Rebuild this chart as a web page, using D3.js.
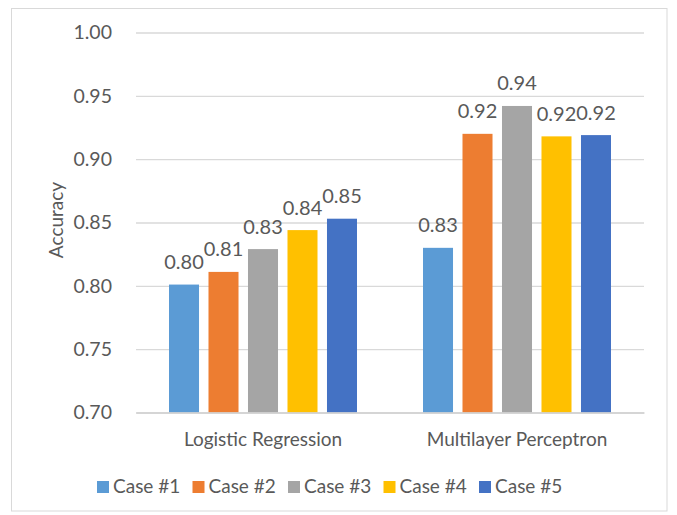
<!DOCTYPE html>
<html>
<head>
<meta charset="utf-8">
<script src="https://cdn.jsdelivr.net/npm/d3@7"></script>
<style>
  html, body { margin: 0; padding: 0; background: #fff; }
  svg text { font-family: Lato, "Open Sans", sans-serif; fill: #595959; }
</style>
</head>
<body>
<svg id="chart" width="677" height="515"></svg>
<script>
// Model categories and the five experimental cases
const categories = ["Logistic Regression", "Multilayer Perceptron"];
const cases = ["Case #1", "Case #2", "Case #3", "Case #4", "Case #5"];

// Accuracy per case, one array per model
const logisticRegression = [0.801, 0.811, 0.829, 0.844, 0.853];
const multilayerPerceptron = [0.830, 0.920, 0.942, 0.918, 0.919];

// Axis ticks
const yTicks = [0.70, 0.75, 0.80, 0.85, 0.90, 0.95, 1.00];

const colors = ["#5B9BD5", "#ED7D31", "#A5A5A5", "#FFC000", "#4472C4"];

const seriesByCategory = [logisticRegression, multilayerPerceptron];
const rows = [];
categories.forEach((cat, i) => {
  cases.forEach((c, j) => rows.push({ cat, c, j, value: seriesByCategory[i][j] }));
});

const svg = d3.select("#chart");
const fmt = d3.format(".2f");

// Chart frame
svg.append("rect")
  .attr("x", 11.5).attr("y", 8.5)
  .attr("width", 655.5).attr("height", 502.5)
  .attr("fill", "#fff").attr("stroke", "#D9D9D9").attr("stroke-width", 1);

const plot = { left: 136, right: 644, top: 32.5, bottom: 412.5 };

const x = d3.scaleBand().domain(categories).range([plot.left, plot.right]).padding(0);
const xInner = d3.scaleBand().domain(cases)
  .range([33, x.bandwidth() - 33])
  .paddingInner(0.24).paddingOuter(0);
const y = d3.scaleLinear().domain([0.70, 1.00]).range([plot.bottom, plot.top]);

// Horizontal gridlines and value labels
const yAxis = d3.axisLeft(y).tickValues(yTicks).tickFormat(fmt)
  .tickSize(-(plot.right - plot.left)).tickPadding(24);
const gy = svg.append("g").attr("transform", `translate(${plot.left},0)`).call(yAxis);
gy.select(".domain").remove();
gy.selectAll(".tick line").attr("stroke", "#D9D9D9").attr("stroke-width", 1.3);
gy.selectAll(".tick text")
  .style("font-size", "19.5px").attr("fill", "#595959");

// Bars
svg.append("g").selectAll("rect").data(rows).join("rect")
  .attr("x", d => x(d.cat) + xInner(d.c))
  .attr("y", d => y(d.value))
  .attr("width", xInner.bandwidth())
  .attr("height", d => y(0.70) - y(d.value))
  .attr("fill", d => colors[d.j]);

// Data labels
svg.append("g").selectAll("text").data(rows).join("text")
  .attr("x", d => x(d.cat) + xInner(d.c) + xInner.bandwidth() / 2)
  .attr("y", d => y(d.value) - 15.5)
  .attr("text-anchor", "middle")
  .style("font-size", "20px")
  .text(d => fmt(d.value));

// Category axis
const xAxis = d3.axisBottom(x).tickSize(0).tickPadding(20);
const gx = svg.append("g").attr("transform", `translate(0,${plot.bottom})`).call(xAxis);
gx.select(".domain").attr("stroke", "#D0D0D0").attr("stroke-width", 1.3);
gx.selectAll(".tick text").style("font-size", "19px").attr("fill", "#595959");

// Y axis title
svg.append("text")
  .attr("transform", "translate(63,220) rotate(-90)")
  .attr("text-anchor", "middle")
  .style("font-size", "19px")
  .text("Accuracy");

// Legend
const legend = svg.append("g").selectAll("g").data(cases).join("g")
  .attr("transform", (d, i) => `translate(${97 + i * 95.5},0)`);
legend.append("rect")
  .attr("x", 0).attr("y", 481).attr("width", 12).attr("height", 12)
  .attr("fill", (d, i) => colors[i]);
legend.append("text")
  .attr("x", 16).attr("y", 493)
  .style("font-size", "19px")
  .text(d => d);
</script>
</body>
</html>
